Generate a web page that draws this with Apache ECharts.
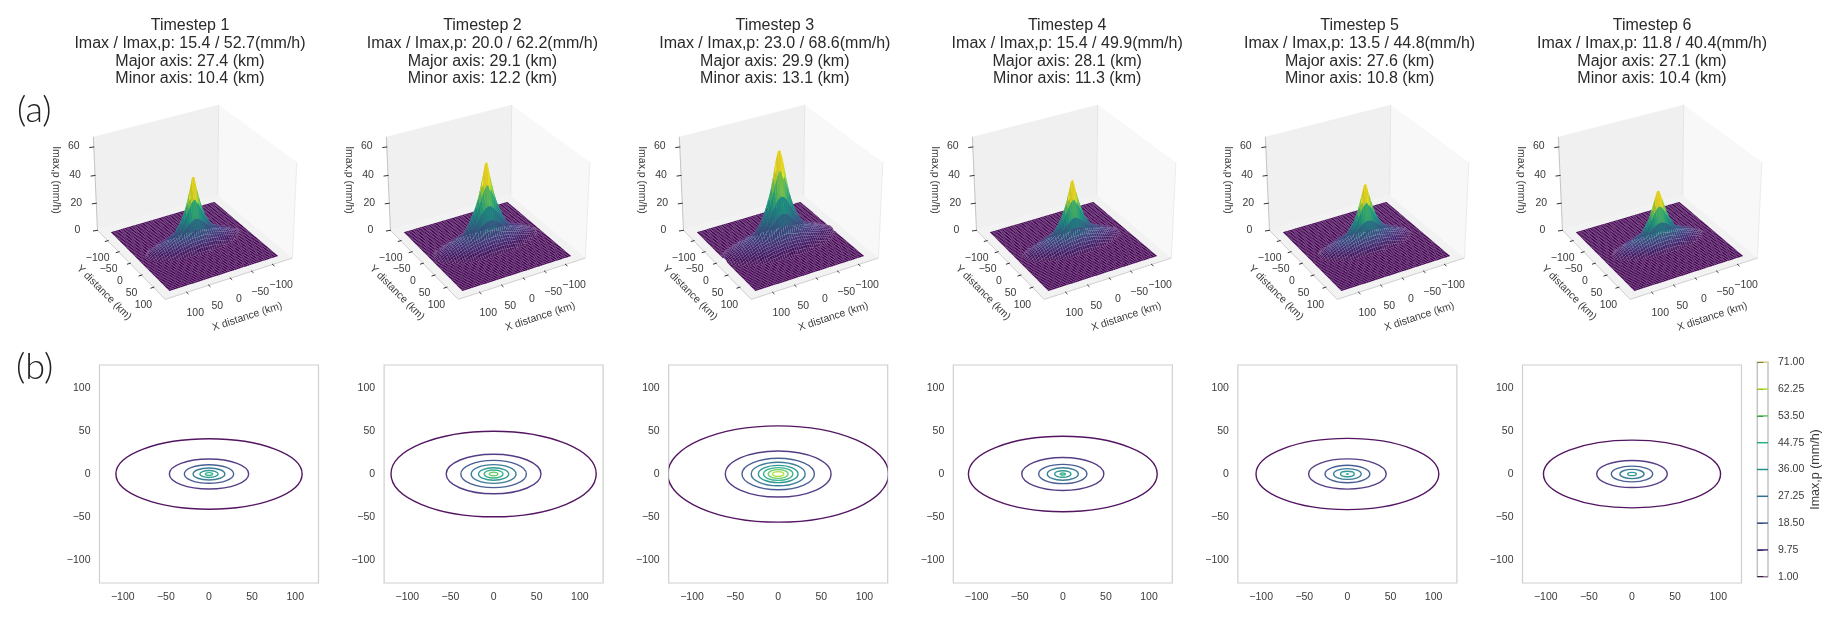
<!DOCTYPE html>
<html><head><meta charset="utf-8">
<style>html,body{margin:0;padding:0;background:#fff}#c{width:1840px;height:620px;filter:blur(0.3px)}</style>
<script src="https://cdn.jsdelivr.net/npm/echarts@6/dist/echarts.min.js"></script>
</head><body><div id="c"></div>
<script>
const timesteps = [1, 2, 3, 4, 5, 6];
const imax = [15.4, 20.0, 23.0, 15.4, 13.5, 11.8];
const imaxP = [52.7, 62.2, 68.6, 49.9, 44.8, 40.4];
const majorAxis = [27.4, 29.1, 29.9, 28.1, 27.6, 27.1];
const minorAxis = [10.4, 12.2, 13.1, 11.3, 10.8, 10.4];
const levels = [1, 9.75, 18.5, 27.25, 36, 44.75, 53.5, 62.25, 71];
const levelColors = ['#440154', '#472d7b', '#3b528b', '#2c728e', '#21918c', '#28ae80', '#5ec962', '#addc30', '#fde725'];
// semi-major axis (km) of each contour read from row (b), one list per timestep, lowest level first
const contour1 = [108, 46, 28.6, 18.4, 10.6, 4.2];
const contour2 = [119, 55, 38, 26, 17.5, 11, 5];
const contour3 = [128, 61.3, 42, 31.3, 23, 17, 11.6, 6.4];
const contour4 = [109.5, 47.6, 28, 18, 9.5, 3];
const contour5 = [106, 45, 26, 16, 8, 1];
const contour6 = [102.7, 41, 24, 14, 5];
const contours = [contour1, contour2, contour3, contour4, contour5, contour6];
const axisTicks = [-100, -50, 0, 50, 100];
const zTicks = [0, 20, 40, 60];
const viridis = ['#440154','#481a6c','#472f7d','#414487','#39568c','#31688e','#2a788e','#23888e','#1f988b','#22a884','#35b779','#54c568','#7ad151','#a5db36','#d2e21b','#fde725'];

const FONT = '"Liberation Sans", Arial, sans-serif';
const TXT = '#3a3a3a';
const panelLeft = i => 99.5 + i * 284.6;
const surfaceCx = i => 193.2 + i * 293;
const surfaceCy = 197.6;
const titleX = i => 190 + i * 292.4;
const PANEL = 127;
const BOX = 148, ZMAX = 67, CELLS_X = 49, CELLS_Y = 50, SCALE = 1275;
const HB = 0.5714, HZ = 0.857, DIST = 10;
const el = 30 * Math.PI / 180, az = 60 * Math.PI / 180;
const dir = [Math.cos(el) * Math.cos(az), Math.cos(el) * Math.sin(az), Math.sin(el)];
const rgt = [-Math.sin(az), Math.cos(az), 0];
const upv = [-Math.sin(el) * Math.cos(az), -Math.sin(el) * Math.sin(az), Math.cos(el)];
const dot = (a, b) => a[0] * b[0] + a[1] * b[1] + a[2] * b[2];
const world = (x, y, z) => [x / BOX * HB, y / BOX * HB, (z / ZMAX - 0.5) * HZ];
function project(i, x, y, z) {
  const p = world(x, y, z), d = DIST - dot(p, dir);
  return [surfaceCx(i) + SCALE * dot(p, rgt) / d, surfaceCy - SCALE * dot(p, upv) / d, d];
}
const hex = h => [1, 3, 5].map(k => parseInt(h.substr(k, 2), 16));
function cmap(t) {
  t = Math.max(0, Math.min(1, t)) * (viridis.length - 1);
  const k = Math.min(viridis.length - 2, Math.floor(t)), f = t - k, a = hex(viridis[k]), b = hex(viridis[k + 1]);
  return [0, 1, 2].map(j => a[j] + (b[j] - a[j]) * f);
}
function rainfall(i, x, y) {
  const radii = contours[i], ratio = majorAxis[i] / minorAxis[i];
  const r = Math.hypot(x, y * ratio);
  if (r > radii[0]) return 0;
  for (let k = 0; k < radii.length - 1; k++)
    if (r >= radii[k + 1]) return levels[k] + (levels[k + 1] - levels[k]) * (radii[k] - r) / (radii[k] - radii[k + 1]);
  const n = radii.length - 1;
  return levels[n] + (imaxP[i] - levels[n]) * (radii[n] - r) / radii[n];
}
const light = [-0.667, -0.667, 0.333];
function surfaceCells(i) {
  const g = [], sx = 2 * PANEL / CELLS_X, sy = 2 * PANEL / CELLS_Y;
  for (let a = 0; a <= CELLS_X; a++) { g.push([]); for (let b = 0; b <= CELLS_Y; b++) g[a].push(rainfall(i, -PANEL + a * sx, -PANEL + b * sy)); }
  let top = 0; g.forEach(r => r.forEach(v => top = Math.max(top, v)));
  const cells = [];
  for (let a = 0; a < CELLS_X; a++) for (let b = 0; b < CELLS_Y; b++) {
    const x0 = -PANEL + a * sx, y0 = -PANEL + b * sy, x1 = x0 + sx, y1 = y0 + sy;
    const v = [g[a][b], g[a + 1][b], g[a + 1][b + 1], g[a][b + 1]];
    const P = [project(i, x0, y0, v[0]), project(i, x1, y0, v[1]), project(i, x1, y1, v[2]), project(i, x0, y1, v[3])];
    const mean = (v[0] + v[1] + v[2] + v[3]) / 4;
    const wa = world(x0, y0, v[0]), wb = world(x1, y1, v[2]), wc = world(x1, y0, v[1]), wd = world(x0, y1, v[3]);
    const e1 = [wb[0] - wa[0], wb[1] - wa[1], wb[2] - wa[2]], e2 = [wd[0] - wc[0], wd[1] - wc[1], wd[2] - wc[2]];
    let nn = [e1[1] * e2[2] - e1[2] * e2[1], e1[2] * e2[0] - e1[0] * e2[2], e1[0] * e2[1] - e1[1] * e2[0]];
    const len = Math.hypot(nn[0], nn[1], nn[2]) || 1; nn = nn.map(q => q / len); if (nn[2] < 0) nn = nn.map(q => -q);
    const shade = 0.94 + 0.1 * dot(nn, light);
    let c = cmap(mean / (top * 0.82)).map(q => q * shade);
    const lo = Math.min(...v), hi = Math.max(...v);
    if (lo === 0 && hi > 0) c = c.map(q => q + (255 - q) * 0.08);
    cells.push({ d: (P[0][2] + P[1][2] + P[2][2] + P[3][2]) / 4, pts: P.map(p => [p[0], p[1]]), c: `rgb(${c.map(q => Math.round(Math.min(255, q))).join(',')})` });
  }
  return cells.sort((p, q) => q.d - p.d);
}
const minus = s => String(s).replace('-', '\u2212');
function text(x, y, s, size, rot, align) {
  return { type: 'text', x, y, rotation: (rot || 0) * Math.PI / 180, silent: true, z2: 5,
    style: { text: s, font: `${size}px ${FONT}`, fill: TXT, align: align || 'center', verticalAlign: 'middle' } };
}
function render3d(params, api) {
  const i = api.value(0);
  const P = (x, y, z) => { const p = project(i, x, y, z); return [p[0], p[1]]; };
  const A = P(BOX, -BOX, 0), B = P(BOX, BOX, 0), C = P(-BOX, BOX, 0), D = P(-BOX, -BOX, 0);
  const At = P(BOX, -BOX, ZMAX), Ct = P(-BOX, BOX, ZMAX), Dt = P(-BOX, -BOX, ZMAX);
  const poly = (pts, fill) => ({ type: 'polygon', shape: { points: pts }, style: { fill, stroke: null }, silent: true });
  const seg = (a, b, stroke, w) => ({ type: 'line', shape: { x1: a[0], y1: a[1], x2: b[0], y2: b[1] }, style: { stroke, lineWidth: w }, silent: true });
  const ch = [
    poly([A, D, Dt, At], '#f0f0f0'), poly([D, C, Ct, Dt], '#f8f8f8'), poly([A, B, C, D], '#f2f2f2'),
    seg(A, At, '#c4c4c4', 1), seg(A, B, '#cfcfcf', 1), seg(B, C, '#cfcfcf', 1), seg(D, Dt, '#e6e6e6', 1), seg(C, Ct, '#ececec', 1)
  ];
  surfaceCells(i).forEach(cell => ch.push({ type: 'polygon', shape: { points: cell.pts }, silent: true,
    style: { fill: cell.c, stroke: 'rgba(255,255,255,0.07)', lineWidth: 0.4 } }));
  axisTicks.forEach(t => {
    ch.push(seg(P(t, BOX * 0.985, 0), P(t, BOX * 1.045, 0), '#333', 1));
    ch.push(seg(P(BOX * 0.985, t, 0), P(BOX * 1.045, t, 0), '#333', 1));
    const xp = P(t, BOX, 0), yp = P(BOX, t, 0);
    ch.push(text(xp[0] + 8.5, xp[1] + 21, minus(t), 10.5));
    ch.push(text(yp[0] - 10, yp[1] + 17.5, minus(t), 10.5));
  });
  zTicks.forEach(t => {
    const p = P(BOX, -BOX, t);
    ch.push(seg([p[0] - 4.5, p[1] + 0.7], [p[0] + 0.5, p[1]], '#333', 1));
    ch.push(text(p[0] - 20, p[1] - 0.5, String(t), 10.5));
  });
  const cx = surfaceCx(i);
  ch.push(text(cx - 137.2, 180, 'Imax,p (mm/h)', 10.5, -90));
  ch.push(text(cx - 89.2, 292.7, 'Y distance (km)', 10.5, -45));
  ch.push(text(cx + 54.1, 316.7, 'X distance (km)', 10.5, 18));
  return { type: 'group', children: ch };
}
function renderContour(params, api) {
  const c = api.coord([0, 0]), s = api.size([api.value(0), api.value(1)]);
  const cs = params.coordSys;
  return { type: 'ellipse', shape: { cx: c[0], cy: c[1], rx: s[0], ry: s[1] },
    clipPath: { type: 'rect', shape: { x: cs.x, y: cs.y, width: cs.width, height: cs.height } },
    style: { fill: null, stroke: levelColors[api.value(2)], lineWidth: 1.4, opacity: 0.92 } };
}
function renderBar(params, api) {
  const a = api.coord([0, api.value(1)]), b = api.coord([1, api.value(1)]);
  const k = params.dataIndex;
  return { type: 'line', shape: { x1: a[0], y1: a[1], x2: b[0], y2: b[1] },
    style: { stroke: levelColors[k], lineWidth: 1.5, opacity: (k === 0 || k === 8) ? 0.4 : 1 } };
}
const label = { color: TXT, fontSize: 10.5, fontFamily: FONT };
const grids = [], xAxes = [], yAxes = [], series = [], titles = [];
timesteps.forEach((t, i) => {
  titles.push({ text: [`Timestep ${t}`, `Imax / Imax,p: ${imax[i].toFixed(1)} / ${imaxP[i].toFixed(1)}(mm/h)`,
    `Major axis: ${majorAxis[i].toFixed(1)} (km)`, `Minor axis: ${minorAxis[i].toFixed(1)} (km)`].join('\n'),
    left: titleX(i), top: 17, padding: 0, textAlign: 'center',
    textStyle: { fontFamily: FONT, fontSize: 16, fontWeight: 'normal', color: '#2a2a2a', lineHeight: 17.7 } });
  grids.push({ left: panelLeft(i), top: 365, width: 219, height: 218, show: true, backgroundColor: '#fff', borderColor: '#cfcfcf', borderWidth: 1.2 });
  const ax = { type: 'value', min: -PANEL, max: PANEL, gridIndex: i, splitLine: { show: false }, axisLine: { show: false }, axisTick: { show: false },
    axisLabel: Object.assign({}, label, { customValues: axisTicks, margin: 9, formatter: minus }) };
  xAxes.push(ax); yAxes.push(Object.assign({}, ax));
  series.push({ type: 'custom', coordinateSystem: 'cartesian2d', xAxisIndex: i, yAxisIndex: i, silent: true, clip: true, renderItem: renderContour,
    encode: { x: 0, y: 1 }, data: contours[i].map((a, k) => [a, a * minorAxis[i] / majorAxis[i], k]) });
  series.push({ type: 'custom', coordinateSystem: 'none', silent: true, renderItem: render3d, data: [[i]] });
});
grids.push({ left: 1757.3, top: 362.3, width: 10.7, height: 214.4, show: true, borderColor: '#c4c4c4', borderWidth: 1.5 });
xAxes.push({ type: 'value', gridIndex: 6, min: 0, max: 1, show: false });
yAxes.push({ type: 'value', gridIndex: 6, position: 'right', min: 1, max: 71, splitLine: { show: false }, axisLine: { show: false },
  axisTick: { show: true, length: 6, customValues: levels, lineStyle: { color: '#333', width: 1 } },
  axisLabel: Object.assign({}, label, { customValues: levels, margin: 10, formatter: v => v.toFixed(2) }),
  name: 'Imax,p (mm/h)', nameLocation: 'middle', nameRotate: 90, nameGap: 41, nameTextStyle: { color: TXT, fontSize: 12.5, fontFamily: FONT } });
series.push({ type: 'custom', coordinateSystem: 'cartesian2d', xAxisIndex: 6, yAxisIndex: 6, silent: true, clip: false, renderItem: renderBar, encode: { x: 0, y: 1 }, data: levels.map(l => [0.5, l]) });
const chart = echarts.init(document.getElementById('c'), null, { renderer: 'canvas', width: 1840, height: 620 });
chart.setOption({
  animation: false, backgroundColor: '#fff', title: titles, grid: grids, xAxis: xAxes, yAxis: yAxes, series,
  graphic: [
    { type: 'text', left: 17, top: 92, silent: true, style: { text: '(a)', font: '300 36px Lato, "Open Sans", sans-serif', fill: '#222' } },
    { type: 'text', left: 16, top: 349, silent: true, style: { text: '(b)', font: '300 36px Lato, "Open Sans", sans-serif', fill: '#222' } }
  ]
});
</script></body></html>
